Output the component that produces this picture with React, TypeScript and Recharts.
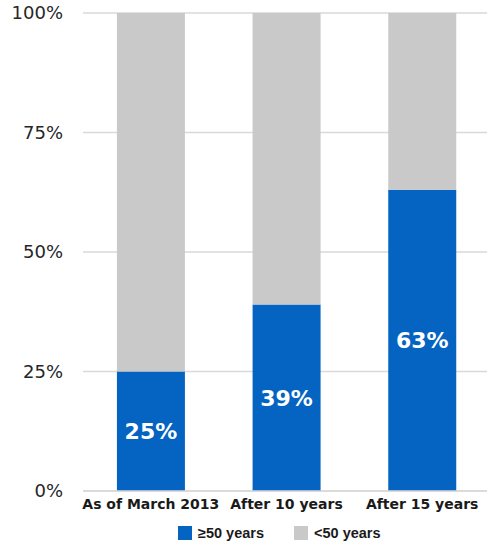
import {
  Bar,
  BarChart,
  CartesianGrid,
  LabelList,
  Legend,
  XAxis,
  YAxis,
} from "recharts";

const categories = ["As of March 2013", "After 10 years", "After 15 years"];
const over50 = [25, 39, 63];
const under50 = [75, 61, 37];
const yTicks = [0, 25, 50, 75, 100];

const BLUE = "#0563C1";
const GREY = "#C9C9C9";
const FONT = "'DejaVu Sans', Verdana, sans-serif";

const data = categories.map((name, i) => ({
  name,
  over: over50[i],
  under: under50[i],
}));

function LegendBox() {
  const items = [
    { label: "≥50 years", color: BLUE },
    { label: "<50 years", color: GREY },
  ];
  return (
    <div
      style={{
        display: "flex",
        alignItems: "center",
        height: 23,
        fontFamily: "'Liberation Sans', Arial, sans-serif",
        fontWeight: "bold",
        fontSize: 14.5,
        color: "#1a1a1a",
      }}
    >
      {items.map((it, i) => (
        <div
          key={it.label}
          style={{ display: "flex", alignItems: "center", marginRight: i === 0 ? 30 : 0 }}
        >
          <span
            style={{
              display: "inline-block",
              width: 14,
              height: 14,
              background: it.color,
              marginRight: 6,
            }}
          />
          <span>{it.label}</span>
        </div>
      ))}
    </div>
  );
}

export default function App() {
  return (
    <div style={{ position: "absolute", left: 0, top: 0, width: 487, height: 544, background: "#fff" }}>
      <BarChart
        width={487}
        height={544}
        data={data}
        margin={{ top: 13, right: -3, left: 0, bottom: 0 }}
        barCategoryGap="25%"
      >
        <CartesianGrid vertical={false} stroke="#d9d9d9" strokeWidth={1.5} />
        <XAxis
          dataKey="name"
          height={30}
          axisLine={{ stroke: "#d9d9d9", strokeWidth: 1.5 }}
          tickLine={false}
          tickSize={0}
          tickMargin={8}
          interval={0}
          tick={{ fill: "#1a1a1a", fontSize: 14, fontWeight: "bold", fontFamily: FONT }}
        />
        <YAxis
          width={83}
          domain={[0, 100]}
          ticks={yTicks}
          axisLine={false}
          tickLine={false}
          tickSize={0}
          tickMargin={20}
          tickFormatter={(v) => `${v}%`}
          tick={{ fill: "#262626", fontSize: 18, fontFamily: FONT }}
        />
        <Legend
          verticalAlign="bottom"
          height={23}
          wrapperStyle={{ left: 178, width: 260, bottom: 0 }}
          content={() => <LegendBox />}
        />
        <Bar dataKey="over" stackId="a" fill={BLUE} isAnimationActive={false}>
          <LabelList
            dataKey="over"
            position="center"
            formatter={(v: number) => `${v}%`}
            fill="#fff"
            style={{ fontSize: 22, fontWeight: "bold", fontFamily: FONT }}
          />
        </Bar>
        <Bar dataKey="under" stackId="a" fill={GREY} isAnimationActive={false} />
      </BarChart>
    </div>
  );
}
